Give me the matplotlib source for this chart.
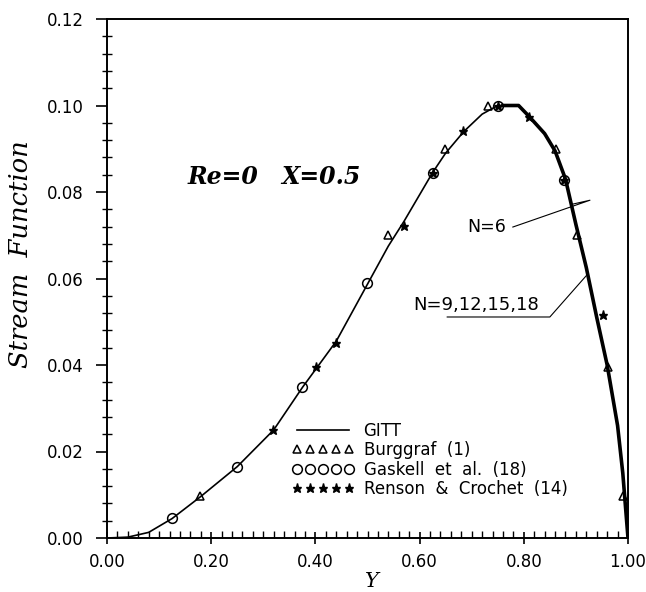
import matplotlib
matplotlib.use('Agg')
import matplotlib.pyplot as plt
from matplotlib.ticker import MultipleLocator, FormatStrFormatter

# GITT curve
gitt_y = [0.00, 0.04, 0.08, 0.125, 0.18, 0.25, 0.32, 0.375, 0.44, 0.50, 0.54, 0.57,
          0.625, 0.65, 0.685, 0.72, 0.75, 0.78]
gitt_psi = [0.0000, 0.0002, 0.0013, 0.0045, 0.0096, 0.0165, 0.0250, 0.0348, 0.0455,
            0.0587, 0.0675, 0.0732, 0.0845, 0.0890, 0.0940, 0.0980, 0.1000, 0.1000]
# right branch, where the N=6..18 curves lie on top of each other
thick_y = [0.76, 0.79, 0.81, 0.84, 0.86, 0.88, 0.90, 0.92, 0.94, 0.96, 0.98, 0.99, 1.00]
thick_psi = [0.1000, 0.1000, 0.0975, 0.0935, 0.0895, 0.0830, 0.0725, 0.0625, 0.0510,
             0.0400, 0.0260, 0.0150, 0.0000]

burg_y = [0.1785, 0.540, 0.649, 0.732, 0.862, 0.9015, 0.962, 0.991]
burg_psi = [0.0096, 0.0700, 0.0900, 0.1000, 0.0900, 0.0700, 0.0396, 0.0096]

gask_y = [0.125, 0.250, 0.374, 0.4985, 0.625, 0.751, 0.878]
gask_psi = [0.0046, 0.0165, 0.0350, 0.0589, 0.0845, 0.1000, 0.0828]

rens_y = [0.318, 0.401, 0.4395, 0.570, 0.625, 0.684, 0.751, 0.8106, 0.878, 0.9527]
rens_psi = [0.0250, 0.0396, 0.0450, 0.0721, 0.0845, 0.0942, 0.1000, 0.0974, 0.0828, 0.0516]

# leader lines of the N labels
n6_x = [0.779, 0.927, 0.894]
n6_yv = [0.0719, 0.0781, 0.0772]
n9_x = [0.653, 0.850, 0.921]
n9_yv = [0.0511, 0.0511, 0.0608]

plt.rcParams['font.family'] = 'DejaVu Sans'

fig = plt.figure(figsize=(6.46, 5.92), dpi=100)
ax = fig.add_axes([107 / 646, 54 / 592, 521 / 646, 519 / 592])

ax.plot(gitt_y, gitt_psi, color='k', linewidth=1.2, label='GITT')
ax.plot(thick_y, thick_psi, color='k', linewidth=2.6, solid_joinstyle='round')
ax.plot(burg_y, burg_psi, linestyle='none', marker='^', markersize=6,
        markerfacecolor='none', markeredgecolor='k', markeredgewidth=1.1,
        label='Burggraf  (1)')
ax.plot(gask_y, gask_psi, linestyle='none', marker='o', markersize=7,
        markerfacecolor='none', markeredgecolor='k', markeredgewidth=1.1,
        label='Gaskell  et  al.  (18)')
ax.plot(rens_y, rens_psi, linestyle='none', marker='*', markersize=6.5,
        color='k', label='Renson  &  Crochet  (14)')

ax.plot(n6_x, n6_yv, color='k', linewidth=0.8)
ax.plot(n9_x, n9_yv, color='k', linewidth=0.8)
ax.text(0.691, 0.0719, 'N=6', fontsize=12.5, va='center', ha='left')
ax.text(0.587, 0.0539, 'N=9,12,15,18', fontsize=13, va='center', ha='left')

ax.text(0.155, 0.0835, 'Re=0', fontsize=17, family='DejaVu Serif',
        style='italic', weight='bold', va='center', ha='left')
ax.text(0.335, 0.0835, 'X=0.5', fontsize=17, family='DejaVu Serif',
        style='italic', weight='bold', va='center', ha='left')

ax.set_xlim(0, 1)
ax.set_ylim(0, 0.12)
ax.xaxis.set_major_locator(MultipleLocator(0.2))
ax.xaxis.set_minor_locator(MultipleLocator(0.02))
ax.yaxis.set_major_locator(MultipleLocator(0.02))
ax.yaxis.set_minor_locator(MultipleLocator(0.004))
ax.xaxis.set_major_formatter(FormatStrFormatter('%.2f'))
ax.yaxis.set_major_formatter(FormatStrFormatter('%.2f'))
ax.tick_params(axis='x', which='major', direction='inout', length=9, width=1.2,
               labelsize=12, pad=6)
ax.tick_params(axis='x', which='minor', direction='in', length=5, width=1.0)
ax.tick_params(axis='y', which='major', direction='out', length=8, width=1.2,
               labelsize=12, pad=9)
ax.tick_params(axis='y', which='minor', direction='inout', length=7, width=1.0)
for s in ax.spines.values():
    s.set_linewidth(1.4)

ax.set_xlabel('Y', fontsize=15, family='DejaVu Serif', style='italic')
ax.xaxis.set_label_coords(0.509, -0.066)
ax.set_ylabel('Stream  Function', fontsize=18.5, family='DejaVu Serif', style='italic')
ax.yaxis.set_label_coords(-0.142, 0.547)

ax.legend(loc='upper left', bbox_to_anchor=(0.355, 0.224), frameon=False,
          numpoints=5, fontsize=12, handlelength=3.7, handletextpad=0.6,
          labelspacing=0.09, borderpad=0, borderaxespad=0)

fig.savefig('out.png', dpi=100)
